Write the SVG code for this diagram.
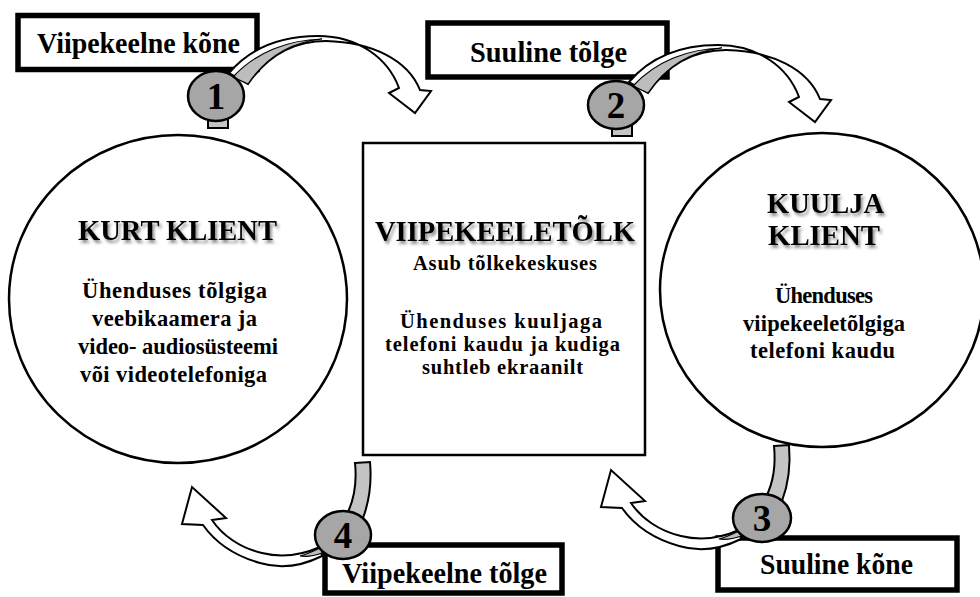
<svg xmlns="http://www.w3.org/2000/svg" width="980" height="597" viewBox="0 0 980 597">
<defs>
<filter id="sh" x="-10%" y="-40%" width="125%" height="190%">
<feGaussianBlur in="SourceAlpha" stdDeviation="1.6"/>
<feOffset dx="1.5" dy="3"/>
<feComponentTransfer><feFuncA type="linear" slope="0.45"/></feComponentTransfer>
<feMerge><feMergeNode/><feMergeNode in="SourceGraphic"/></feMerge>
</filter>
</defs>
<style>
text{font-family:"Liberation Serif","Times New Roman",serif;font-weight:bold;fill:#000}
.node{fill:#fff;stroke:#000;stroke-width:2.5}
.lbl{fill:#fff;stroke:#000;stroke-width:5.5}
.t{font-size:30px}
.b{font-size:22.5px}
.c{font-size:20.5px}
.l{font-size:29px}
.num{font-size:37px;text-anchor:middle}
.badge{fill:#a6a6a6;stroke:#000;stroke-width:2.5}
.band{fill:#c4c4c4;stroke:#000;stroke-width:2}
.arr{fill:#fff;stroke:#000;stroke-width:2;stroke-linejoin:miter}
.under{fill:#bdbdbd;stroke:#000;stroke-width:1.2}
</style>
<rect width="980" height="597" fill="#fff"/>

<g id="kurt-klient">
<ellipse class="node" cx="178" cy="299" rx="169" ry="164"/>
<text class="t" x="78" y="240" textLength="199" lengthAdjust="spacingAndGlyphs" filter="url(#sh)">KURT KLIENT</text>
<text class="b" x="82" y="298" textLength="185">Ühenduses tõlgiga</text>
<text class="b" x="92" y="326" textLength="165">veebikaamera ja</text>
<text class="b" x="78" y="354" textLength="200">video- audiosüsteemi</text>
<text class="b" x="80" y="382" textLength="187">või videotelefoniga</text>
</g>

<g id="viipekeeletolk">
<rect class="node" x="363" y="143" width="282" height="312"/>
<text class="t" x="375" y="241" textLength="260" lengthAdjust="spacingAndGlyphs" filter="url(#sh)">VIIPEKEELETÕLK</text>
<text class="c" x="413" y="270" textLength="184">Asub tõlkekeskuses</text>
<text class="c" x="400" y="328" textLength="202">Ühenduses kuuljaga</text>
<text class="c" x="385" y="351" textLength="235">telefoni kaudu ja kudiga</text>
<text class="c" x="422" y="374" textLength="161">suhtleb ekraanilt</text>
</g>

<g id="kuulja-klient">
<ellipse class="node" cx="822" cy="290" rx="162" ry="157"/>
<text class="t" x="767" y="213" textLength="117" lengthAdjust="spacingAndGlyphs" filter="url(#sh)">KUULJA</text>
<text class="t" x="768" y="245" textLength="112" lengthAdjust="spacingAndGlyphs" filter="url(#sh)">KLIENT</text>
<text class="b" x="775" y="303" textLength="98">Ühenduses</text>
<text class="b" x="743" y="331" textLength="162">viipekeeletõlgiga</text>
<text class="b" x="750" y="358" textLength="145">telefoni kaudu</text>
</g>

<g id="label-1">
<rect class="lbl" x="18" y="15.5" width="239" height="54"/>
<text class="l" x="37" y="53" textLength="203" lengthAdjust="spacingAndGlyphs">Viipekeelne kõne</text>
</g>
<g id="label-2">
<rect class="lbl" x="428" y="23" width="239" height="54"/>
<text class="l" x="470" y="62" textLength="157" lengthAdjust="spacingAndGlyphs">Suuline tõlge</text>
</g>
<g id="label-3">
<rect class="lbl" x="718" y="538" width="239" height="52"/>
<text class="l" x="760" y="574" textLength="153" lengthAdjust="spacingAndGlyphs">Suuline kõne</text>
</g>
<g id="label-4">
<rect class="lbl" x="325" y="545" width="237" height="48"/>
<text class="l" x="342" y="583" textLength="205" lengthAdjust="spacingAndGlyphs">Viipekeelne tõlge</text>
</g>

<g id="connectors">
<g id="arrow-1">
<rect class="band" x="208" y="112" width="20" height="16"/>
<path class="arr" d="M 229,73 C 252,46 283,36 318,36 C 358,36 388,58 399,88 L 389,93 L 415,113 L 431,91 L 420,90 C 408,60 372,42 326,41 C 295,41 268,55 248,84 Z"/>
<path class="under" d="M 233,77 C 256,52 288,40 322,39 C 292,42 266,57 248,84 Z"/>
</g>
<g id="arrow-2" transform="translate(400,9)">
<rect class="band" x="212" y="114" width="20" height="13"/>
<path class="arr" d="M 229,73 C 252,46 283,36 318,36 C 358,36 388,58 399,88 L 389,93 L 415,113 L 431,91 L 420,90 C 408,60 372,42 326,41 C 295,41 268,55 248,84 Z"/>
<path class="under" d="M 233,77 C 256,52 288,40 322,39 C 292,42 266,57 248,84 Z"/>
</g>
<g id="arrow-4">
<path class="band" d="M 355,463 L 370,462 C 372,485 369,502 363,518 L 347,514 C 354,500 357,483 355,463 Z"/>
<path class="arr" d="M 322,556 C 302,566 280,569 260,563 C 235,556 215,542 203,525 L 182,524 L 192,487 L 226,518 L 212,520 C 222,535 240,548 262,553 C 282,558 302,555 320,547 Z"/>
<path class="under" d="M 300,556 C 308,554 314,551 322,547 L 322,553 C 314,556 307,557 300,556 Z"/>
</g>
<g id="arrow-3" transform="translate(419,-17)">
<path class="band" d="M 355,463 L 370,462 C 372,485 369,502 363,518 L 347,514 C 354,500 357,483 355,463 Z"/>
<path class="arr" d="M 322,556 C 302,566 280,569 260,563 C 235,556 215,542 203,525 L 182,524 L 192,487 L 226,518 L 212,520 C 222,535 240,548 262,553 C 282,558 302,555 320,547 Z"/>
<path class="under" d="M 300,556 C 308,554 314,551 322,547 L 322,553 C 314,556 307,557 300,556 Z"/>
</g>
</g>

<g id="step-1">
<ellipse class="badge" cx="216" cy="96" rx="28" ry="25"/>
<text class="num" x="216" y="109">1</text>
</g>
<g id="step-2">
<ellipse class="badge" cx="616" cy="105" rx="28" ry="24"/>
<text class="num" x="616" y="118">2</text>
</g>
<g id="step-3">
<ellipse class="badge" cx="762" cy="518" rx="29" ry="24"/>
<text class="num" x="762" y="531">3</text>
</g>
<g id="step-4">
<ellipse class="badge" cx="343" cy="535" rx="28" ry="24"/>
<text class="num" x="343" y="548">4</text>
</g>
</svg>
